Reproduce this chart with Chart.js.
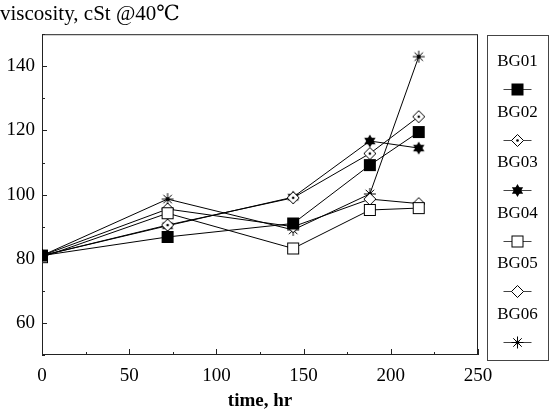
<!DOCTYPE html>
<html>
<head>
<meta charset="utf-8">
<script src="https://cdn.jsdelivr.net/npm/chart.js@4.4.1/dist/chart.umd.min.js"></script>
<style>
  body { margin: 0; background: #fff; }
  #wrap { width: 550px; height: 416px; }
</style>
</head>
<body>
<div id="wrap"><canvas id="chart" width="550" height="416"></canvas></div>
<script>
// --- data ---
const hours = [0, 72, 144, 188, 216];
const bg01 = [81, 86.8, 91, 109.2, 119.5];
const bg02 = [81, 90.5, 99, 112.8, 124.3];
const bg03 = [81, 90.3, 99.2, 116.7, 114.5];
const bg04 = [80.5, 94.2, 83.2, 95.2, 95.8];
const bg05 = [81, 95.5, 90, 98.6, 97.2];
const bg06 = [81, 98.6, 89, 100.2, 143];
const seriesNames = ['BG01', 'BG02', 'BG03', 'BG04', 'BG05', 'BG06'];
const markerKinds = ['fsquare', 'ddiamond', 'hexstar', 'osquare', 'odiamond', 'aster'];
const yTicks = [60, 80, 100, 120, 140];
const xTicks = [0, 50, 100, 150, 200, 250];

const SERIF = '"Liberation Serif", "DejaVu Serif", serif';

// draw one marker shape centred on x,y
function paintMarker(ctx, kind, x, y) {
  ctx.save();
  ctx.lineWidth = 1;
  ctx.strokeStyle = '#000';
  ctx.fillStyle = '#000';
  if (kind === 'fsquare') {
    ctx.fillRect(x - 6, y - 6, 12, 12);
  } else if (kind === 'osquare') {
    ctx.fillStyle = '#fff';
    ctx.fillRect(x - 5.5, y - 5.5, 11, 11);
    ctx.strokeRect(x - 5.5, y - 5.5, 11, 11);
  } else if (kind === 'ddiamond' || kind === 'odiamond') {
    ctx.beginPath();
    ctx.moveTo(x, y - 6);
    ctx.lineTo(x + 6, y);
    ctx.lineTo(x, y + 6);
    ctx.lineTo(x - 6, y);
    ctx.closePath();
    ctx.fillStyle = '#fff';
    ctx.fill();
    ctx.stroke();
    if (kind === 'ddiamond') {
      ctx.fillStyle = '#000';
      ctx.beginPath();
      ctx.arc(x, y, 1.3, 0, Math.PI * 2);
      ctx.fill();
    }
  } else if (kind === 'hexstar') {
    const r = 6.5;
    for (let t = 0; t < 2; t++) {
      ctx.beginPath();
      for (let k = 0; k < 3; k++) {
        const a = -Math.PI / 2 + t * Math.PI + k * 2 * Math.PI / 3;
        const px = x + r * Math.cos(a), py = y + r * Math.sin(a);
        if (k === 0) ctx.moveTo(px, py); else ctx.lineTo(px, py);
      }
      ctx.closePath();
      ctx.fill();
    }
  } else if (kind === 'aster') {
    const r = 6;
    ctx.beginPath();
    for (let k = 0; k < 4; k++) {
      const a = k * Math.PI / 4;
      ctx.moveTo(x - r * Math.cos(a), y - r * Math.sin(a));
      ctx.lineTo(x + r * Math.cos(a), y + r * Math.sin(a));
    }
    ctx.stroke();
    ctx.beginPath();
    ctx.arc(x, y, 2, 0, Math.PI * 2);
    ctx.fill();
  }
  ctx.restore();
}

function markerImage(kind) {
  const c = document.createElement('canvas');
  c.width = 20; c.height = 20;
  paintMarker(c.getContext('2d'), kind, 10, 10);
  return c;
}

const seriesValues = [bg01, bg02, bg03, bg04, bg05, bg06];
const datasets = seriesNames.map((name, i) => ({
  label: name,
  data: hours.map((h, j) => ({ x: h, y: seriesValues[i][j] })),
  borderColor: '#000',
  borderWidth: 1,
  pointStyle: markerImage(markerKinds[i]),
  pointRadius: 6,
  tension: 0,
  fill: false
}));

// frame + inward tick marks
const framePlugin = {
  id: 'frame',
  beforeDatasetsDraw(chart) {
    const { ctx, chartArea: a, scales } = chart;
    ctx.save();
    ctx.strokeStyle = '#222';
    ctx.lineWidth = 1;
    ctx.strokeRect(a.left + 0.5, a.top + 0.5, a.right - a.left - 1, a.bottom - a.top - 1);
    ctx.beginPath();
    for (let v = 50; v <= 150; v += 10) {
      const py = Math.round(scales.y.getPixelForValue(v)) + 0.5;
      const len = yTicks.includes(v) ? 5 : 3;
      ctx.moveTo(a.left, py);
      ctx.lineTo(a.left + len, py);
    }
    for (let v = 0; v <= 250; v += 25) {
      const px = Math.round(scales.x.getPixelForValue(v)) + 0.5;
      const len = v % 50 === 0 ? 6 : 3;
      ctx.moveTo(px, a.bottom);
      ctx.lineTo(px, a.bottom - len);
    }
    ctx.stroke();
    ctx.restore();
  }
};

// boxed legend on the right: label above a short line with the marker
const legendPlugin = {
  id: 'sideLegend',
  afterDraw(chart) {
    const ctx = chart.ctx;
    const left = 487, right = 548, top = 35, bottom = 360;
    const cx = (left + right) / 2;
    ctx.save();
    ctx.strokeStyle = '#444';
    ctx.lineWidth = 1;
    ctx.strokeRect(left + 0.5, top + 0.5, right - left, bottom - top);
    ctx.fillStyle = '#000';
    ctx.font = '17px ' + SERIF;
    ctx.textAlign = 'center';
    ctx.textBaseline = 'middle';
    seriesNames.forEach((name, i) => {
      const ly = 62 + i * 50.5;
      const my = Math.round(ly + 27);
      ctx.fillText(name, cx, ly);
      ctx.beginPath();
      ctx.moveTo(cx - 14, my + 0.5);
      ctx.lineTo(cx + 14, my + 0.5);
      ctx.stroke();
      paintMarker(ctx, markerKinds[i], cx, my + 0.5);
    });
    ctx.restore();
  }
};

new Chart(document.getElementById('chart'), {
  type: 'line',
  data: { datasets },
  options: {
    responsive: false,
    animation: false,
    layout: { padding: { right: 72, left: 0, bottom: 0 } },
    plugins: {
      legend: { display: false },
      tooltip: { enabled: false },
      title: {
        display: true,
        text: 'viscosity, cSt @40℃',
        align: 'start',
        color: '#000',
        font: { family: SERIF, size: 21, weight: 'normal' },
        padding: { top: 2, bottom: 7 }
      }
    },
    scales: {
      x: {
        type: 'linear',
        min: 0,
        max: 250,
        afterBuildTicks: s => { s.ticks = xTicks.map(v => ({ value: v })); },
        afterFit: s => { s.height = 61; },
        grid: { display: false, drawTicks: false },
        border: { display: false },
        ticks: { color: '#000', padding: 10, maxRotation: 0, font: { family: SERIF, size: 19 } },
        title: {
          display: true,
          text: 'time, hr',
          color: '#000',
          font: { family: SERIF, size: 19, weight: 'bold' },
          padding: { top: 0, bottom: 4 }
        }
      },
      y: {
        min: 50,
        max: 150,
        afterBuildTicks: s => { s.ticks = yTicks.map(v => ({ value: v })); },
        afterFit: s => { s.width = 42; },
        grid: { display: false, drawTicks: false },
        border: { display: false },
        ticks: { color: '#000', padding: 7, font: { family: SERIF, size: 19 } }
      }
    }
  },
  plugins: [framePlugin, legendPlugin]
});
</script>
</body>
</html>
